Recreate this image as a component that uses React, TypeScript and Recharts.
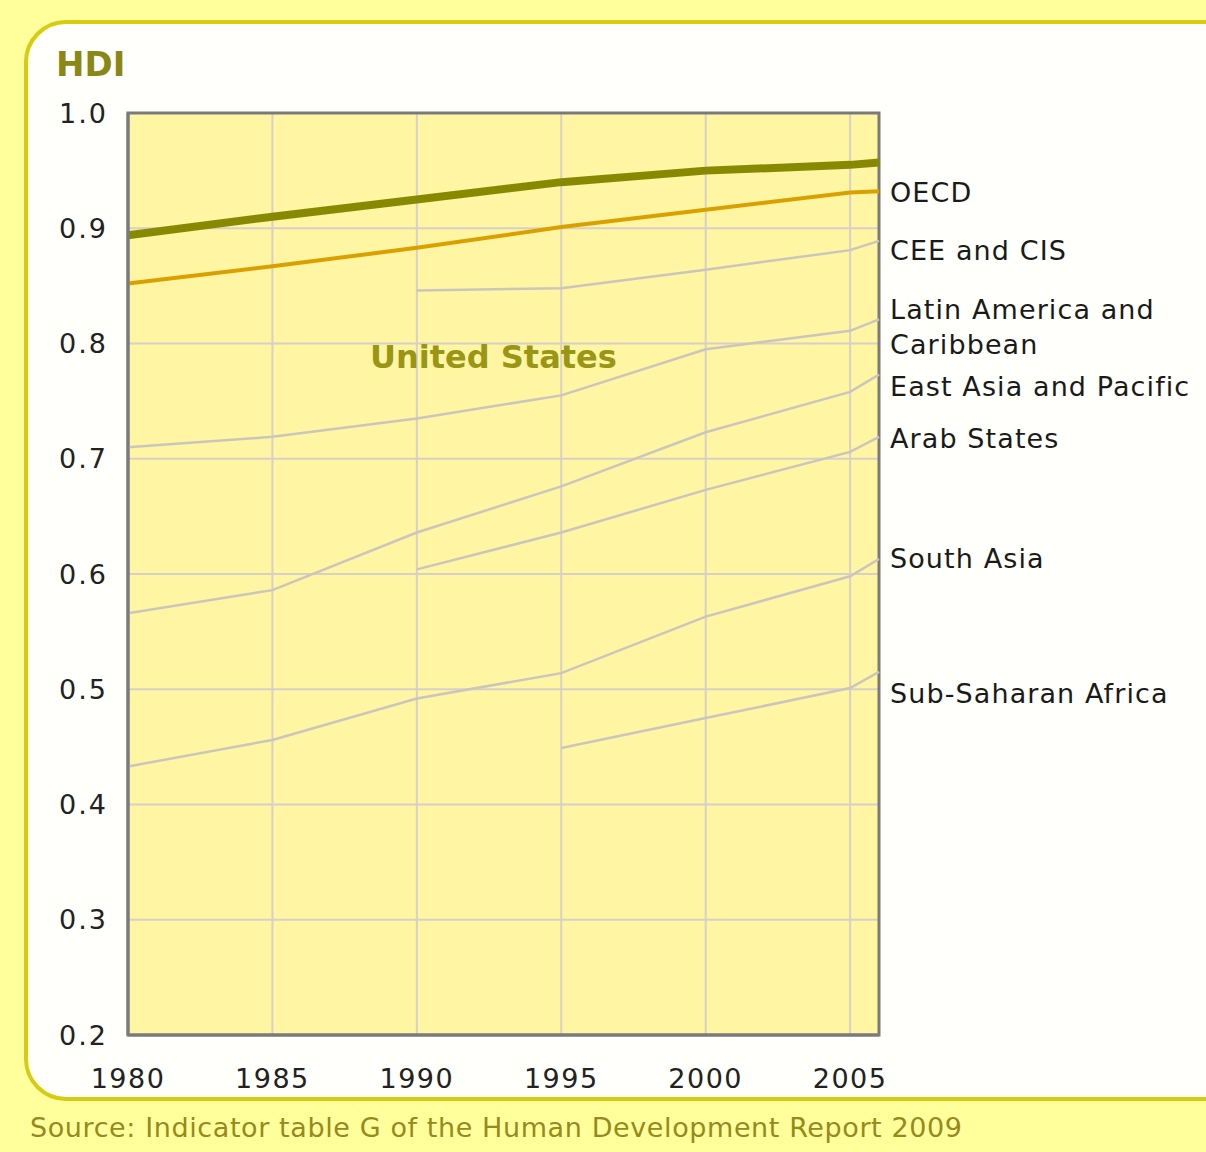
import React from 'react'
import { LineChart, Line, XAxis, YAxis, CartesianGrid, ReferenceArea } from 'recharts'

const years = [1980, 1985, 1990, 1995, 2000, 2005, 2006]
const xTicks = [1980, 1985, 1990, 1995, 2000, 2005]
const yTicks = [0.2, 0.3, 0.4, 0.5, 0.6, 0.7, 0.8, 0.9, 1.0]

const unitedStates = [0.894, 0.91, 0.925, 0.94, 0.95, 0.955, 0.957]
const oecd = [0.852, 0.867, 0.883, 0.901, 0.916, 0.931, 0.932]
const ceeCis = [null, null, 0.846, 0.848, 0.864, 0.881, 0.889]
const latinAmerica = [0.71, 0.719, 0.735, 0.755, 0.795, 0.811, 0.821]
const eastAsia = [0.566, 0.586, 0.636, 0.676, 0.723, 0.758, 0.773]
const arabStates = [null, null, 0.604, 0.636, 0.673, 0.706, 0.719]
const southAsia = [0.433, 0.456, 0.492, 0.514, 0.563, 0.598, 0.613]
const subSaharan = [null, null, null, 0.449, 0.475, 0.501, 0.515]

const data = years.map((year, i) => ({
  year,
  us: unitedStates[i],
  oecd: oecd[i],
  cee: ceeCis[i],
  latam: latinAmerica[i],
  eap: eastAsia[i],
  arab: arabStates[i],
  sa: southAsia[i],
  ssa: subSaharan[i],
}))

const FONT = '"DejaVu Sans", Verdana, sans-serif'
const GREY = '#cbc6bc'

// label text per series, and how far the text sits from the line end
const endLabels: Record<string, { lines: string[]; dy: number }> = {
  oecd: { lines: ['OECD'], dy: 1 },
  cee: { lines: ['CEE and CIS'], dy: 9 },
  latam: { lines: ['Latin America and', 'Caribbean'], dy: -10 },
  eap: { lines: ['East Asia and Pacific'], dy: 11 },
  arab: { lines: ['Arab States'], dy: 1 },
  sa: { lines: ['South Asia'], dy: -1 },
  ssa: { lines: ['Sub-Saharan Africa'], dy: 21 },
}

const endLabel = (key: string) => (props: any) => {
  const { x, y, index } = props
  if (index !== years.length - 1) return null
  const cfg = endLabels[key]
  return (
    <text x={x + 11} y={y + cfg.dy} fontFamily={FONT} fontSize={27} fill="#1a1a1a" letterSpacing={1.1} dominantBaseline="central">
      {cfg.lines.map((l, i) => (
        <tspan key={i} x={x + 11} dy={i === 0 ? 0 : 35}>{l}</tspan>
      ))}
    </text>
  )
}

export default function App() {
  return (
    <div style={{ position: 'absolute', left: 0, top: 0, width: 1206, height: 1152, background: '#ffff9c', overflow: 'hidden', fontFamily: FONT }}>
      <div style={{ position: 'absolute', left: 24, top: 20, width: 1230, height: 1081, border: '4px solid #d8cc12', borderRadius: 42, background: '#fffffb', boxSizing: 'border-box' }} />
      <div style={{ position: 'absolute', left: 56, top: 44, fontSize: 34, fontWeight: 'bold', color: '#8a8716' }}>HDI</div>
      <div style={{ position: 'absolute', left: 30, top: 1112, fontSize: 27, color: '#958a1c', letterSpacing: 0.6, whiteSpace: 'nowrap' }}>
        Source: Indicator table G of the Human Development Report 2009
      </div>
      <div style={{ position: 'absolute', left: 0, top: 0 }}>
        <LineChart width={1206} height={1152} data={data} margin={{ top: 113, right: 327, bottom: 57, left: 0 }}>
          <CartesianGrid stroke="#d6d0c8" strokeWidth={2} fill="#fff5a3" fillOpacity={1} />
          <XAxis
            dataKey="year"
            type="number"
            domain={[1980, 2006]}
            ticks={xTicks}
            height={60}
            tickLine={false}
            tickSize={0}
            tickMargin={34}
            axisLine={{ stroke: '#7a7a7a', strokeWidth: 3 }}
            tick={{ fontSize: 27, fill: '#222', fontFamily: FONT, letterSpacing: 1.5 }}
          />
          <YAxis
            type="number"
            domain={[0.2, 1.0]}
            ticks={yTicks}
            width={128}
            tickLine={false}
            tickSize={0}
            tickMargin={20}
            axisLine={{ stroke: '#7a7a7a', strokeWidth: 3 }}
            tickFormatter={(v: number) => v.toFixed(1)}
            tick={{ fontSize: 27, fill: '#222', fontFamily: FONT, letterSpacing: 2 }}
          />
          <ReferenceArea x1={1980} x2={2006} y1={0.2} y2={1.0} fill="none" stroke="#7a7a7a" strokeWidth={3} ifOverflow="visible" />
          <Line dataKey="ssa" stroke={GREY} strokeWidth={2.5} dot={false} isAnimationActive={false} label={endLabel('ssa')} />
          <Line dataKey="sa" stroke={GREY} strokeWidth={2.5} dot={false} isAnimationActive={false} label={endLabel('sa')} />
          <Line dataKey="arab" stroke={GREY} strokeWidth={2.5} dot={false} isAnimationActive={false} label={endLabel('arab')} />
          <Line dataKey="eap" stroke={GREY} strokeWidth={2.5} dot={false} isAnimationActive={false} label={endLabel('eap')} />
          <Line dataKey="latam" stroke={GREY} strokeWidth={2.5} dot={false} isAnimationActive={false} label={endLabel('latam')} />
          <Line dataKey="cee" stroke={GREY} strokeWidth={2.5} dot={false} isAnimationActive={false} label={endLabel('cee')} />
          <Line dataKey="oecd" stroke="#d9a100" strokeWidth={4} dot={false} isAnimationActive={false} label={endLabel('oecd')} />
          <Line dataKey="us" stroke="#878a00" strokeWidth={8} dot={false} isAnimationActive={false} />
        </LineChart>
      </div>
      <div style={{ position: 'absolute', left: 370, top: 338, fontSize: 32, fontWeight: 'bold', color: '#999515' }}>United States</div>
    </div>
  )
}
